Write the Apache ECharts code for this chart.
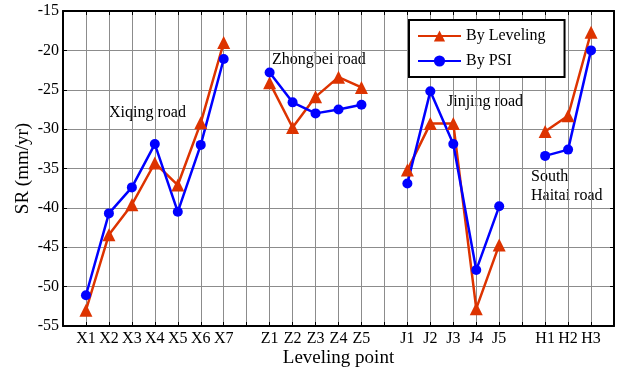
<!DOCTYPE html>
<html>
<head>
<meta charset="utf-8">
<script src="https://cdn.jsdelivr.net/npm/echarts@6/dist/echarts.min.js"></script>
<style>
  html, body { margin: 0; padding: 0; background: #fff; }
  #chart { width: 617px; height: 369px; }
</style>
</head>
<body>
<div id="chart"></div>
<script>
// x slots: blanks separate the road groups
var pointLabels = ['', 'X1', 'X2', 'X3', 'X4', 'X5', 'X6', 'X7', '',
  'Z1', 'Z2', 'Z3', 'Z4', 'Z5', '',
  'J1', 'J2', 'J3', 'J4', 'J5', '',
  'H1', 'H2', 'H3', '']

var levelingSR = [null, -53.0, -43.4, -39.6, -34.3, -37.1, -29.2, -19.0, null,
  -24.1, -29.8, -25.9, -23.4, -24.7, null,
  -35.2, -29.3, -29.3, -52.8, -44.7, null,
  -30.3, -28.3, -17.7, null]

var psiSR = [null, -51.1, -40.7, -37.4, -31.9, -40.5, -32.0, -21.1, null,
  -22.8, -26.6, -28.0, -27.5, -26.9, null,
  -36.9, -25.2, -31.9, -47.9, -39.8, null,
  -33.4, -32.6, -20.0, null]

var seriesNames = ['By Leveling', 'By PSI']
var roadNotes = ['Xiqing road', 'Zhongbei road', 'Jinjing road', 'South\nHaitai road']

var font = 'Liberation Serif'
var gridColor = '#8c8c8c'

var chart = echarts.init(document.getElementById('chart'))

function noteText(text, x, y) {
  return {
    type: 'text',
    left: x,
    top: y,
    style: {
      text: text,
      font: '16px "' + font + '"',
      fill: '#000',
      lineHeight: 19
    }
  }
}

chart.setOption({
  animation: false,
  grid: { left: 63, right: 3, top: 11, bottom: 43, outerBoundsMode: 'none' },
  legend: {
    left: 409,
    top: 20,
    orient: 'vertical',
    data: seriesNames,
    backgroundColor: '#fff',
    borderColor: '#000',
    borderWidth: 2,
    borderRadius: 0,
    padding: [8, 19, 8, 8],
    itemWidth: 43,
    itemHeight: 14,
    itemGap: 9,
    textStyle: { fontFamily: font, fontSize: 16, color: '#000' }
  },
  xAxis: [
    {
      type: 'category',
      data: pointLabels,
      boundaryGap: false,
      name: 'Leveling point',
      nameLocation: 'middle',
      nameGap: 23,
      nameMoveOverlap: false,
      nameTextStyle: { fontFamily: font, fontSize: 19, color: '#000' },
      axisLine: { lineStyle: { color: '#000', width: 2 } },
      axisTick: { inside: true, length: 4, interval: 0, lineStyle: { color: '#000' } },
      axisLabel: { interval: 0, margin: 5, fontFamily: font, fontSize: 16, color: '#000' },
      splitLine: { show: true, interval: 0, lineStyle: { color: gridColor, width: 1 } }
    },
    {
      type: 'category',
      data: pointLabels,
      boundaryGap: false,
      position: 'top',
      axisLine: { lineStyle: { color: '#000', width: 2 } },
      axisTick: { inside: true, length: 4, interval: 0, lineStyle: { color: '#000' } },
      axisLabel: { show: false },
      splitLine: { show: false }
    }
  ],
  yAxis: [
    {
      type: 'value',
      min: -55,
      max: -15,
      interval: 5,
      name: 'SR (mm/yr)',
      nameLocation: 'middle',
      nameGap: 30,
      nameMoveOverlap: false,
      nameTextStyle: { fontFamily: font, fontSize: 19, color: '#000' },
      axisLine: { show: true, lineStyle: { color: '#000', width: 2 } },
      axisTick: { show: true, inside: true, length: 4, lineStyle: { color: '#000' } },
      axisLabel: { margin: 4, fontFamily: font, fontSize: 16, color: '#000' },
      splitLine: { show: true, lineStyle: { color: gridColor, width: 1 } }
    },
    {
      type: 'value',
      min: -55,
      max: -15,
      interval: 5,
      position: 'right',
      axisLine: { show: true, lineStyle: { color: '#000', width: 2 } },
      axisTick: { show: true, inside: true, length: 4, lineStyle: { color: '#000' } },
      axisLabel: { show: false },
      splitLine: { show: false }
    }
  ],
  graphic: [
    noteText(roadNotes[0], 109, 103),
    noteText(roadNotes[1], 272, 50),
    noteText(roadNotes[2], 447, 92),
    noteText(roadNotes[3], 531, 167)
  ],
  series: [
    {
      name: seriesNames[0],
      type: 'line',
      data: levelingSR,
      symbol: 'triangle',
      symbolSize: 13,
      connectNulls: false,
      lineStyle: { color: '#dd3300', width: 2.5 },
      itemStyle: { color: '#dd3300' }
    },
    {
      name: seriesNames[1],
      type: 'line',
      data: psiSR,
      symbol: 'circle',
      symbolSize: 10,
      connectNulls: false,
      lineStyle: { color: '#0000ff', width: 2.5 },
      itemStyle: { color: '#0000ff' }
    }
  ]
})
</script>
</body>
</html>
